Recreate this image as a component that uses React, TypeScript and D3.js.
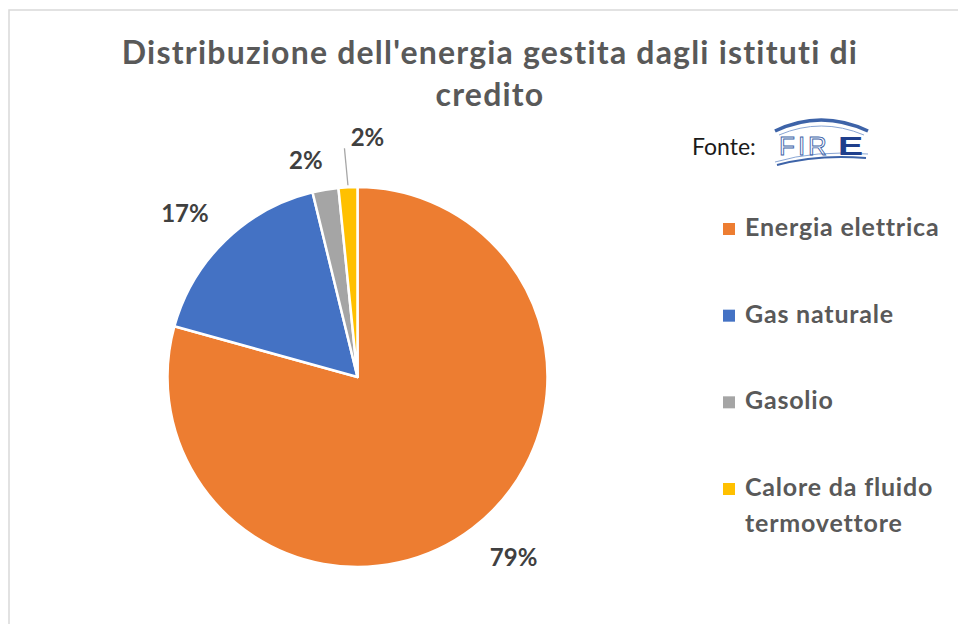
import React from 'react';
import * as d3 from 'd3';

const W = 958;
const H = 624;

// dati
const categories = ['Energia elettrica', 'Gas naturale', 'Gasolio', 'Calore da fluido termovettore'];
const shares = [79.3, 16.9, 2.2, 1.6];
const colors = ['#ED7D31', '#4472C4', '#A5A5A5', '#FFC000'];
const percentLabels = ['79%', '17%', '2%', '2%'];
const legendLines = [['Energia elettrica'], ['Gas naturale'], ['Gasolio'], ['Calore da fluido', 'termovettore']];
const titleLines = ["Distribuzione dell'energia gestita dagli istituti di", 'credito'];

const FONT = 'Lato, "Open Sans", sans-serif';

// etichette: raggio e spostamento per ogni fetta
const labelRadius = [238, 238, 223, 240];
const labelNudge: [number, number][] = [[12, -9], [-7, 7], [-14, 3], [22, 0]];

const App = () => {
    const cx = 357.5;
    const cy = 377;
    const r = 190;

    const data = categories.map((c, i) => ({ name: c, value: shares[i], color: colors[i], label: percentLabels[i] }));

    const pie = d3.pie<any>().sort(null).value(d => d.value);
    const arcs = pie(data);
    const arc = d3.arc<any>().innerRadius(0).outerRadius(r);

    const labelPos = arcs.map((a, i) => {
        const c = d3.arc<any>().innerRadius(labelRadius[i]).outerRadius(labelRadius[i]).centroid(a);
        return [c[0] + labelNudge[i][0], c[1] + labelNudge[i][1]];
    });

    // linea guida per l'ultima fetta (piccola)
    const last = arcs[arcs.length - 1];
    const edge = d3.arc<any>().innerRadius(r).outerRadius(r).centroid(last);
    const lp = labelPos[labelPos.length - 1];

    const legendY = d3.scalePoint<number>().domain(d3.range(categories.length)).range([229, 489]);

    return (
        <svg width={W} height={H} style={{ position: 'absolute', left: 0, top: 0, background: '#fff', fontVariantLigatures: 'none' }}>
            <rect x={9} y={10} width={W + 20} height={H + 20} fill="#fff" stroke="#d9d9d9" strokeWidth={1.5} />
            <g fontFamily={FONT} fontWeight="bold" fill="#595959" textAnchor="middle" fontSize={32} letterSpacing={1.2}>
                {titleLines.map((t, i) => (
                    <text key={i} x={490} y={64 + i * 42}>{t}</text>
                ))}
            </g>

            <g transform={`translate(${cx},${cy})`}>
                {arcs.map((a, i) => (
                    <path key={i} d={arc(a) || ''} fill={a.data.color} stroke="#fff" strokeWidth={2.5} strokeLinejoin="round" />
                ))}
                <line x1={lp[0] - 23} y1={lp[1] + 11} x2={edge[0]} y2={edge[1] - 2} stroke="#a6a6a6" strokeWidth={1.3} />
                {arcs.map((a, i) => (
                    <text key={i} x={labelPos[i][0]} y={labelPos[i][1]} dy="0.36em" textAnchor="middle"
                        fontFamily={FONT} fontWeight="bold" fontSize={24} fill="#404040">{a.data.label}</text>
                ))}
            </g>

            <text x={692} y={155} fontFamily={FONT} fontSize={23} fill="#1a1a1a">Fonte:</text>
            <g fill="none">
                <path d="M775,131 Q821,109 868,131" stroke="#3d63a8" strokeWidth={3.5} />
                <path d="M779,135 Q821,117 864,135" stroke="#8aa6d4" strokeWidth={1} />
                <path d="M775,162 Q815,150 868,154" stroke="#8aa6d4" strokeWidth={1} />
                <path d="M777,165 Q818,154 866,158" stroke="#3d63a8" strokeWidth={2} />
                <text x={779} y={155} fontFamily="Liberation Sans, sans-serif" fontSize={26} letterSpacing={3} stroke="#3d63a8" strokeWidth={0.9} fill="none">FIR</text>
                <g transform="translate(838,155) scale(1.45,1)">
                    <text x={0} y={0} fontFamily="Liberation Sans, sans-serif" fontWeight="bold" fontSize={26} fill="#1f3f8c">E</text>
                </g>
            </g>

            <g fontFamily={FONT} fontWeight="bold" fontSize={25} letterSpacing={0.8} fill="#595959">
                {categories.map((c, i) => (
                    <g key={c} transform={`translate(723,${legendY(i)})`}>
                        <rect x={0} y={-6} width={12} height={12} fill={colors[i]} />
                        {legendLines[i].map((t, j) => (
                            <text key={j} x={22} y={7 + j * 36}>{t}</text>
                        ))}
                    </g>
                ))}
            </g>
        </svg>
    );
};

export default App;
